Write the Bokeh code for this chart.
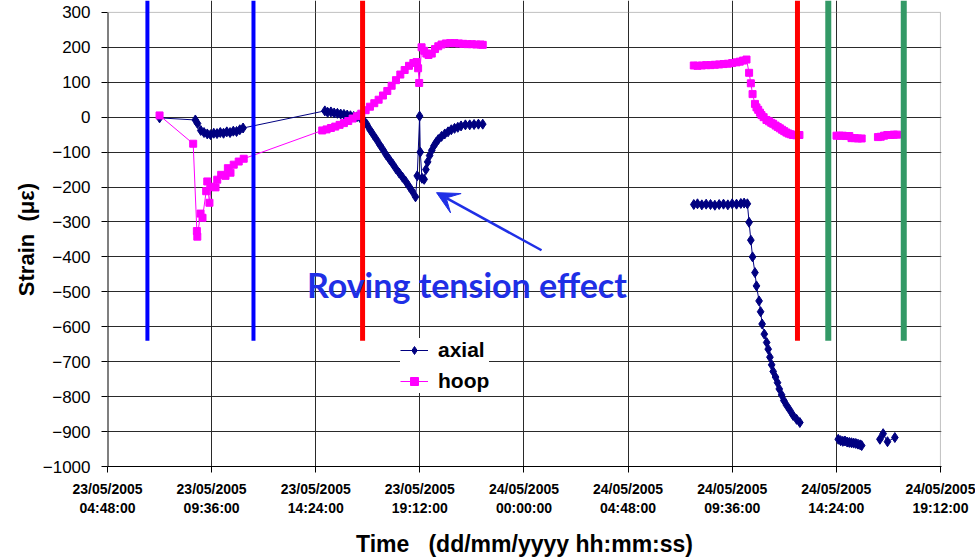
import math
from bokeh.plotting import figure
from bokeh.models import (FixedTicker, CustomJSTickFormatter, Label, Arrow, VeeHead, Range1d)
from bokeh.embed import file_html
from bokeh.resources import INLINE

nan = float("nan")

# time in hours since 23/05/2005 00:00:00
axial_hours = [
    7.20, 8.85, 8.95, 9.10, 9.25, 9.40, 9.55, 9.70, 9.85, 10.00, 10.15, 10.30, 10.45, 10.60, 10.75, 10.90, 11.05,
    14.82, 14.95, 15.10, 15.25, 15.40, 15.55, 15.70, 15.85, 16.00, 16.15, 16.30, 16.45, 16.60, 16.75, 16.90,
    17.05, 17.20, 17.35, 17.50, 17.65, 17.80, 17.95, 18.10, 18.25, 18.40, 18.55, 18.70, 18.85, 19.00,
    19.08, 19.19, 19.22, 19.30, 19.40, 19.48, 19.56, 19.65, 19.75, 19.85, 19.95, 20.05, 20.20, 20.35,
    20.50, 20.65, 20.80, 20.95, 21.10, 21.30, 21.50, 21.70, 21.90, 22.10,
    nan,
    31.83, 32.00, 32.20, 32.40, 32.60, 32.80, 33.00, 33.20, 33.40, 33.60, 33.80, 34.00, 34.15, 34.30,
    34.38, 34.46, 34.54, 34.65, 34.72, 34.84, 34.91, 34.98, 35.08, 35.19, 35.26, 35.34, 35.42, 35.49,
    35.60, 35.69, 35.77, 35.88, 35.98, 36.11, 36.26, 36.41, 36.57, 36.72,
    nan,
    38.49, 38.60, 38.70, 38.80, 38.90, 39.00, 39.10, 39.20, 39.30, 39.40, 39.50, 39.57,
    nan,
    40.41, 40.56, 40.76, 41.10,
]
axial_strain = [
    -2, -8, -18, -38, -44, -48, -50, -46, -47, -44, -46, -42, -44, -40, -41, -36, -31,
    18, 14, 15, 12, 11, 9, 8, 6, 4, 2, 1, -2, -8, -20, -36,
    -50, -64, -79, -93, -108, -121, -134, -148, -160, -172, -184, -198, -212, -228,
    -168, 3, -100, -175, -178, -150, -128, -110, -95, -82, -72, -64, -55, -48,
    -42, -36, -32, -29, -25, -22, -22, -21, -20, -20,
    nan,
    -250, -248, -251, -249, -250, -252, -250, -249, -251, -248, -249, -247, -246, -248,
    -301, -352, -400, -445, -483, -526, -557, -592, -621, -645, -664, -687, -709, -728,
    -744, -760, -778, -795, -811, -825, -839, -854, -865, -874,
    nan,
    -922, -926, -928, -927, -930, -931, -932, -933, -934, -936, -938, -940,
    nan,
    -922, -906, -929, -917,
]

hoop_hours = [
    7.20, 8.75, 8.92, 8.94, 9.09, 9.18, 9.35, 9.40, 9.50, 9.58, 9.78, 9.86, 10.04, 10.24, 10.35, 10.47,
    10.62, 10.85, 11.08,
    14.70, 14.90, 15.10, 15.30, 15.50, 15.70, 15.90, 16.10, 16.30, 16.50, 16.70, 16.90, 17.10, 17.30,
    17.50, 17.70, 17.90, 18.10, 18.30, 18.50, 18.70, 18.90, 19.05, 19.12, 19.17, 19.28, 19.40, 19.50,
    19.60, 19.75, 19.90, 20.05, 20.20, 20.40, 20.60, 20.80, 21.00, 21.20, 21.40, 21.60, 21.80, 22.00, 22.10,
    nan,
    31.83, 32.00, 32.20, 32.40, 32.60, 32.80, 33.00, 33.20, 33.40, 33.60, 33.80, 33.95, 34.10, 34.26,
    34.38, 34.46, 34.54, 34.65, 34.72, 34.80, 34.88, 34.95, 35.05, 35.18, 35.30, 35.40, 35.49, 35.60,
    35.70, 35.80, 35.90, 36.00, 36.10, 36.20, 36.30, 36.40, 36.55, 36.70,
    nan,
    38.41, 38.55, 38.70, 38.85, 39.00, 39.10, 39.25, 39.40, 39.57,
    nan,
    40.32, 40.45, 40.60, 40.75, 40.90, 41.05, 41.20,
]
hoop_strain = [
    5, -76, -326, -342, -276, -288, -212, -184, -245, -199, -201, -179, -165, -168, -146, -159,
    -136, -127, -119,
    -38, -35, -31, -27, -22, -17, -11, -4, 3, 10, 20, 30, 40, 50,
    62, 75, 90, 106, 122, 135, 147, 155, 158, 140, 98, 200, 190, 182,
    178, 182, 195, 203, 208, 211, 212, 212, 211, 210, 209, 209, 208, 208, 207,
    nan,
    148, 147, 148, 149, 149, 150, 151, 152, 153, 155, 157, 159, 162, 165,
    127, 97, 66, 38, 28, 21, 13, 6, 0, -8, -12, -16, -19, -24,
    -28, -32, -36, -40, -44, -47, -49, -51, -52, -51,
    nan,
    -53, -53, -53, -54, -54, -60, -60, -61, -61,
    nan,
    -57, -56, -53, -51, -51, -50, -50,
]

# event marker lines (hours)
event_hours = [6.64, 11.53, 16.56, 36.61, 38.03, 41.51]
event_colors = ["#0000FF", "#0000FF", "#FF0000", "#FF0000", "#339966", "#339966"]
event_widths = [4, 4, 5, 5, 6, 6]
event_bottom = -640

x_ticks = [4.8, 9.6, 14.4, 19.2, 24.0, 28.8, 33.6, 38.4, 43.2]
y_ticks = list(range(-1000, 301, 100))
y_top = 334

FONT = "Liberation Sans"

p = figure(width=975, height=559, output_backend="svg", toolbar_location=None,
           x_range=Range1d(4.8, 43.25), y_range=Range1d(-1000, y_top),
           min_border_left=107, min_border_right=34, min_border_top=0, min_border_bottom=92)
p.outline_line_color = None
p.background_fill_color = "white"
p.border_fill_color = "white"

# axes
p.xaxis.ticker = FixedTicker(ticks=x_ticks)
p.xaxis.formatter = CustomJSTickFormatter(code="""
const t = Math.round(tick * 60);
const d = 23 + Math.floor(t / 1440);
const m = t % 1440;
const hh = String(Math.floor(m / 60)).padStart(2, '0');
const mm = String(m % 60).padStart(2, '0');
return d + "/05/2005\\n" + hh + ":" + mm + ":00";
""")
p.xaxis.major_label_text_font = FONT
p.xaxis.major_label_text_font_size = "14px"
p.xaxis.major_label_text_font_style = "bold"
p.xaxis.major_label_text_color = "black"
p.xaxis.major_tick_out = 6
p.xaxis.major_tick_in = 0
p.xaxis.minor_tick_line_color = None
p.xaxis.axis_line_color = "black"
p.xaxis.major_tick_line_color = "black"
p.xaxis.major_label_standoff = 8
p.xaxis.axis_label = "Time\u00a0\u00a0\u00a0(dd/mm/yyyy hh:mm:ss)"
p.xaxis.axis_label_text_font = FONT
p.xaxis.axis_label_text_font_size = "23px"
p.xaxis.axis_label_text_font_style = "bold"
p.xaxis.axis_label_text_color = "black"
p.xaxis.axis_label_standoff = 12

p.yaxis.ticker = FixedTicker(ticks=y_ticks)
p.yaxis.major_label_text_font = FONT
p.yaxis.major_label_text_font_size = "17px"
p.yaxis.major_label_text_color = "black"
p.yaxis.major_tick_out = 6
p.yaxis.major_tick_in = 0
p.yaxis.minor_tick_line_color = None
p.yaxis.axis_line_color = None
p.yaxis.major_tick_line_color = "black"
p.yaxis.major_label_standoff = 11
p.yaxis.axis_label = "Strain\u00a0\u00a0(με)\u00a0\u00a0"
p.yaxis.axis_label_text_font = FONT
p.yaxis.axis_label_text_font_size = "22px"
p.yaxis.axis_label_text_font_style = "bold"
p.yaxis.axis_label_text_color = "black"
p.yaxis.axis_label_standoff = 1

# grid
p.xgrid.ticker = FixedTicker(ticks=x_ticks[1:-1])
p.ygrid.ticker = FixedTicker(ticks=y_ticks[:-1])
p.xgrid.grid_line_color = "#2a2a2a"
p.ygrid.grid_line_color = "#2a2a2a"
p.xgrid.grid_line_width = 1
p.ygrid.grid_line_width = 1

# frame borders
p.segment(x0=[x_ticks[0]], y0=[y_ticks[0]], x1=[x_ticks[0]], y1=[y_ticks[-1]], line_color="black", line_width=2)
p.segment(x0=[x_ticks[0]], y0=[y_ticks[-1]], x1=[x_ticks[-1]], y1=[y_ticks[-1]], line_color="#808080", line_width=1, line_dash="1 1")
p.segment(x0=[x_ticks[-1]], y0=[y_ticks[0]], x1=[x_ticks[-1]], y1=[y_ticks[-1]], line_color="#808080", line_width=1, line_dash="1 1")

# data
p.line(axial_hours, axial_strain, line_color="#000080", line_width=1, legend_label="axial")
p.scatter(axial_hours, axial_strain, marker="diamond", size=10, fill_color="#000080", line_color="#000080", legend_label="axial")
p.line(hoop_hours, hoop_strain, line_color="#FF00FF", line_width=1, legend_label="hoop")
p.scatter(hoop_hours, hoop_strain, marker="square", size=7, fill_color="#FF00FF", line_color="#FF00FF", legend_label="hoop")

# event lines
p.segment(x0=event_hours, x1=event_hours, y0=[event_bottom] * len(event_hours), y1=[y_top] * len(event_hours),
          line_color=event_colors, line_width=event_widths, line_cap="butt")

# legend
lg = p.legend[0]
lg.location = (293, 73)
lg.padding = 8
lg.spacing = 7
lg.glyph_width = 28
lg.glyph_height = 20
lg.label_height = 20
lg.label_standoff = 10
lg.label_text_font = FONT
lg.label_text_font_size = "21px"
lg.label_text_font_style = "bold"
lg.label_text_color = "black"
lg.border_line_color = None
lg.background_fill_color = "white"
lg.background_fill_alpha = 1

# annotations
p.add_layout(Label(x=21.37, y=-478, text="Roving tension effect", text_align="center", text_baseline="middle",
                   text_font="Lato", text_font_size="34px", text_font_style="bold", text_color="#1f2fe6"))
p.add_layout(Arrow(end=VeeHead(size=22, fill_color="#1f2fe6", line_color="#1f2fe6"),
                   x_start=24.81, y_start=-381, x_end=19.97, y_end=-216,
                   line_color="#1f2fe6", line_width=2.5))

open("out.html", "w").write(file_html(p, INLINE))
